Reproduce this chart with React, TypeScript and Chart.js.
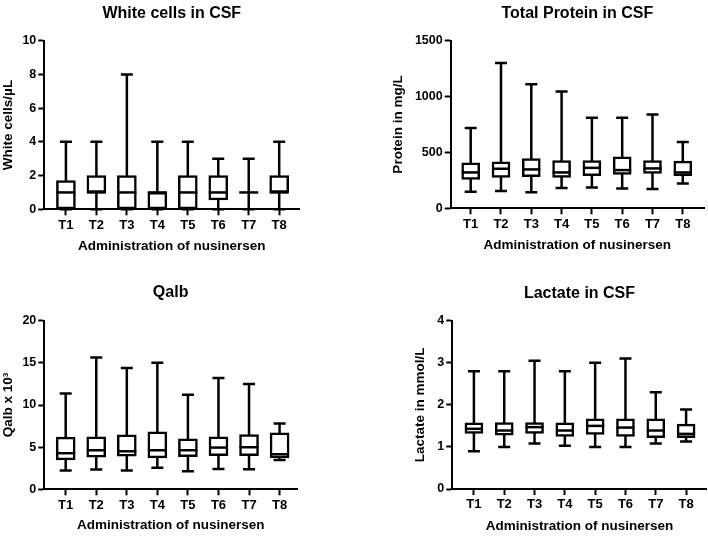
import React, { useEffect, useRef } from 'react';
import { Chart, registerables } from 'chart.js';

Chart.register(...registerables);

// ---------- data ----------
const timepoints = ['T1', 'T2', 'T3', 'T4', 'T5', 'T6', 'T7', 'T8'];

const wbcMin = [0, 0, 0, 0, 0, 0, 0, 0];
const wbcQ1 = [0, 1, 0, 0, 0, 0.55, 1, 1];
const wbcMedian = [1, 1, 1, 1, 1, 1, 1, 1];
const wbcQ3 = [1.7, 2, 2, 1, 2, 2, 1, 2];
const wbcMax = [4, 4, 8, 4, 4, 3, 3, 4];
const wbcTicks = [0, 2, 4, 6, 8, 10];

const protMin = [149, 154, 143, 181, 187, 178, 172, 223];
const protQ1 = [258, 276, 282, 276, 291, 303, 312, 291];
const protMedian = [321, 354, 348, 321, 362, 342, 357, 321];
const protQ3 = [407, 416, 446, 428, 428, 460, 428, 422];
const protMax = [719, 1300, 1110, 1045, 811, 811, 840, 594];
const protTicks = [0, 500, 1000, 1500];

const qalbMin = [2.22, 2.34, 2.22, 2.57, 2.14, 2.42, 2.38, 3.49];
const qalbQ1 = [3.49, 3.8, 3.92, 3.72, 3.88, 4.0, 4.0, 3.72];
const qalbMedian = [4.28, 4.63, 4.51, 4.63, 4.63, 4.95, 4.99, 4.16];
const qalbQ3 = [6.18, 6.22, 6.46, 6.81, 5.98, 6.22, 6.5, 6.69];
const qalbMax = [11.37, 15.64, 14.38, 15.01, 11.21, 13.19, 12.48, 7.8];
const qalbTicks = [0, 5, 10, 15, 20];

const lacMin = [0.9, 1.0, 1.08, 1.03, 1.0, 1.0, 1.08, 1.13];
const lacQ1 = [1.32, 1.28, 1.32, 1.25, 1.3, 1.25, 1.22, 1.22];
const lacMedian = [1.43, 1.39, 1.47, 1.39, 1.5, 1.46, 1.39, 1.31];
const lacQ3 = [1.57, 1.58, 1.58, 1.57, 1.67, 1.67, 1.67, 1.54];
const lacMax = [2.8, 2.8, 3.05, 2.8, 3.0, 3.1, 2.3, 1.89];
const lacTicks = [0, 1, 2, 3, 4];

const xTitle = 'Administration of nusinersen';

// ---------- styling ----------
const FONT = '"Liberation Sans", Arial, Helvetica, sans-serif';
Chart.defaults.font.family = FONT;
Chart.defaults.color = '#000';
const LW = 2.5;

type Panel = {
  title: string;
  yTitle: string;
  mins: number[];
  q1: number[];
  med: number[];
  q3: number[];
  maxs: number[];
  yTicks: number[];
  left: number;
  top: number;
  w: number;
  h: number;
  padL: number;
  padR: number;
  tPadTop: number;
  tPadBottom: number;
  yWidth: number;
  xHeight: number;
  xTitlePB: number;
  xMin: number;
  xMax: number;
  barW: number;
};

const panels: Panel[] = [
  {
    title: 'White cells in CSF', yTitle: 'White cells/\u00b5L',
    mins: wbcMin, q1: wbcQ1, med: wbcMedian, q3: wbcQ3, maxs: wbcMax, yTicks: wbcTicks,
    left: 0, top: 0, w: 354, h: 268, padL: 0, padR: 54.7, tPadTop: 3.7, tPadBottom: 17.8,
    yWidth: 44.3, xHeight: 58.7, xTitlePB: 13.2, xMin: 0.29, xMax: 8.66, barW: 19,
  },
  {
    title: 'Total Protein in CSF', yTitle: 'Protein in mg/L',
    mins: protMin, q1: protQ1, med: protMedian, q3: protQ3, maxs: protMax, yTicks: protTicks,
    left: 354, top: 0, w: 354, h: 268, padL: 36, padR: 4, tPadTop: 3.7, tPadBottom: 17.8,
    yWidth: 60.7, xHeight: 59.7, xTitlePB: 14.9, xMin: 0.34, xMax: 8.7, barW: 18,
  },
  {
    title: 'Qalb', yTitle: 'Qalb x 10\u00b3',
    mins: qalbMin, q1: qalbQ1, med: qalbMedian, q3: qalbQ3, maxs: qalbMax, yTicks: qalbTicks,
    left: 0, top: 268, w: 354, h: 269, padL: 0, padR: 57, tPadTop: 15.4, tPadBottom: 18.1,
    yWidth: 44.3, xHeight: 47.7, xTitlePB: 3.6, xMin: 0.3, xMax: 8.57, barW: 19,
  },
  {
    title: 'Lactate in CSF', yTitle: 'Lactate in mmol/L',
    mins: lacMin, q1: lacQ1, med: lacMedian, q3: lacQ3, maxs: lacMax, yTicks: lacTicks,
    left: 354, top: 268, w: 354, h: 269, padL: 58.4, padR: 1.3, tPadTop: 16.4, tPadBottom: 17.1,
    yWidth: 39.9, xHeight: 48, xTitlePB: 2.6, xMin: 0.287, xMax: 8.68, barW: 18,
  },
];

// whiskers (drawn under the boxes) and medians (drawn over them)
const boxPlugin = {
  id: 'boxWhiskers',
  beforeDatasetsDraw(chart: any) {
    const ds: any = chart.data.datasets[0];
    const xs = chart.scales.x;
    const ys = chart.scales.y;
    const ctx = chart.ctx;
    ctx.save();
    ctx.strokeStyle = '#000';
    ctx.lineWidth = LW;
    ctx.lineCap = 'butt';
    ds.whiskerMin.forEach((mn: number, i: number) => {
      const x = xs.getPixelForValue(i + 1);
      const y0 = ys.getPixelForValue(mn);
      const y1 = ys.getPixelForValue(ds.whiskerMax[i]);
      const cap = 6;
      ctx.beginPath();
      ctx.moveTo(x, y0);
      ctx.lineTo(x, y1);
      ctx.moveTo(x - cap, y0);
      ctx.lineTo(x + cap, y0);
      ctx.moveTo(x - cap, y1);
      ctx.lineTo(x + cap, y1);
      ctx.stroke();
    });
    ctx.restore();
  },
  afterDatasetsDraw(chart: any) {
    const ds: any = chart.data.datasets[0];
    const meta = chart.getDatasetMeta(0);
    const ys = chart.scales.y;
    const ctx = chart.ctx;
    ctx.save();
    ctx.strokeStyle = '#000';
    ctx.lineWidth = LW;
    ds.medians.forEach((m: number, i: number) => {
      const el: any = meta.data[i];
      const y = ys.getPixelForValue(m);
      ctx.beginPath();
      ctx.moveTo(el.x - el.width / 2, y);
      ctx.lineTo(el.x + el.width / 2, y);
      ctx.stroke();
    });
    ctx.restore();
  },
};

function BoxPanel({ p }: { p: Panel }) {
  const ref = useRef<HTMLCanvasElement>(null);
  useEffect(() => {
    const canvas = ref.current!;
    const chart = new Chart(canvas, {
      type: 'bar',
      data: {
        datasets: [
          {
            data: timepoints.map((_, i) => ({ x: i + 1, y: [p.q1[i], p.q3[i]] })) as any,
            backgroundColor: '#fff',
            borderColor: '#000',
            borderWidth: LW,
            borderSkipped: false,
            barThickness: p.barW,
            whiskerMin: p.mins,
            whiskerMax: p.maxs,
            medians: p.med,
          } as any,
        ],
      },
      options: {
        responsive: false,
        animation: false,
        devicePixelRatio: 1,
        events: [],
        layout: { padding: { left: p.padL, right: p.padR, top: 0, bottom: 0 } },
        plugins: {
          legend: { display: false },
          tooltip: { enabled: false },
          title: {
            display: true,
            text: p.title,
            fullSize: false,
            color: '#000',
            font: { size: 16, weight: 'bold', family: FONT },
            padding: { top: p.tPadTop, bottom: p.tPadBottom },
          },
        },
        scales: {
          x: {
            type: 'linear',
            min: p.xMin,
            max: p.xMax,
            offset: false,
            afterBuildTicks: (scale: any) => {
              scale.ticks = timepoints.map((_, i) => ({ value: i + 1 }));
            },
            afterFit: (scale: any) => {
              scale.height = p.xHeight;
            },
            grid: {
              offset: false,
              drawOnChartArea: false,
              drawTicks: true,
              tickLength: 6,
              tickWidth: 2,
              tickColor: '#000',
            },
            border: { display: true, color: '#000', width: 2 },
            ticks: {
              autoSkip: false,
              maxRotation: 0,
              padding: 2,
              color: '#000',
              font: { size: 13, weight: 'bold', family: FONT },
              callback: (v: any) => timepoints[Math.round(Number(v)) - 1] ?? '',
            },
            title: {
              display: true,
              text: xTitle,
              color: '#000',
              font: { size: 13.5, weight: 'bold', family: FONT },
              padding: { top: 0, bottom: p.xTitlePB },
            },
          },
          y: {
            type: 'linear',
            min: p.yTicks[0],
            max: p.yTicks[p.yTicks.length - 1],
            afterBuildTicks: (scale: any) => {
              scale.ticks = p.yTicks.map((v) => ({ value: v }));
            },
            afterFit: (scale: any) => {
              scale.width = p.yWidth;
            },
            grid: {
              drawOnChartArea: false,
              drawTicks: true,
              tickLength: 6,
              tickWidth: 2,
              tickColor: '#000',
            },
            border: { display: true, color: '#000', width: 2 },
            ticks: {
              padding: 2,
              color: '#000',
              font: { size: 12.5, weight: 'bold', family: FONT },
              callback: (v: any) => String(v),
            },
            title: {
              display: true,
              text: p.yTitle,
              color: '#000',
              font: { size: 13.5, weight: 'bold', family: FONT },
              padding: { top: 0, bottom: 0 },
            },
          },
        },
      } as any,
      plugins: [boxPlugin as any],
    });
    return () => chart.destroy();
  }, [p]);
  return (
    <canvas
      ref={ref}
      width={p.w}
      height={p.h}
      style={{ position: 'absolute', left: p.left, top: p.top, width: p.w, height: p.h, display: 'block' }}
    />
  );
}

export default function App() {
  return (
    <div style={{ position: 'absolute', left: 0, top: 0, width: 708, height: 537, background: '#fff', overflow: 'hidden' }}>
      {panels.map((p, i) => (
        <BoxPanel key={i} p={p} />
      ))}
    </div>
  );
}
